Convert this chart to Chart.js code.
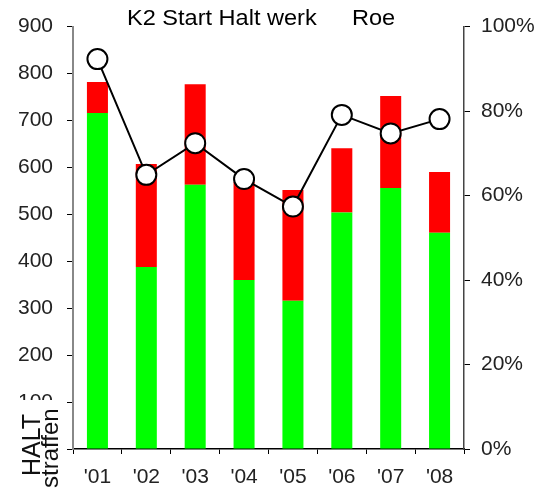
<!DOCTYPE html>
<html>
<head>
<meta charset="utf-8">
<script src="https://cdn.jsdelivr.net/npm/chart.js@4/dist/chart.umd.min.js"></script>
<style>
  html, body { margin: 0; padding: 0; background: #fff; }
  #wrap { width: 550px; height: 493px; }
</style>
</head>
<body>
<div id="wrap"><canvas id="chart" width="550" height="493"></canvas></div>
<script>
var years = ["'01", "'02", "'03", "'04", "'05", "'06", "'07", "'08"];
var halt = [716, 388, 563, 360, 316, 504, 556, 461];      // green part
var straffen = [66, 219, 214, 209, 236, 137, 196, 129];   // red part on top
var pct = [92.3, 64.9, 72.4, 63.9, 57.4, 79.1, 74.7, 78.1];
var leftTicks = [0, 100, 200, 300, 400, 500, 600, 700, 800, 900];
var rightTicks = [0, 20, 40, 60, 80, 100];

var fontName = "'Liberation Sans', Arial, sans-serif";

// title and the rotated "HALT straffen" note in the corner
var extraText = {
  id: 'extraText',
  afterDraw: function(chart) {
    var ctx = chart.ctx;
    ctx.save();
    ctx.fillStyle = '#000';
    ctx.font = '22px ' + fontName;
    ctx.textAlign = 'left';
    ctx.textBaseline = 'alphabetic';
    // slightly wider lettering for the title
    ctx.save();
    ctx.translate(127, 25);
    ctx.scale(1.07, 1);
    ctx.fillText('K2 Start Halt werk', 0, 0);
    ctx.restore();
    ctx.save();
    ctx.translate(352, 25);
    ctx.scale(1.07, 1);
    ctx.fillText('Roe', 0, 0);
    ctx.restore();

    ctx.fillStyle = '#fff';
    ctx.fillRect(10, 400, 53, 93);
    ctx.fillStyle = '#111';
    ctx.save();
    ctx.translate(40, 476);
    ctx.rotate(-Math.PI / 2);
    ctx.font = '25px ' + fontName;
    ctx.fillText('HALT', 0, 0);
    ctx.restore();
    ctx.save();
    ctx.translate(58, 488);
    ctx.rotate(-Math.PI / 2);
    ctx.font = '24px ' + fontName;
    ctx.fillText('straffen', 0, 0);
    ctx.restore();
    ctx.restore();
  }
};

new Chart(document.getElementById('chart'), {
  type: 'bar',
  data: {
    labels: years,
    datasets: [
      {
        type: 'line',
        label: 'percentage',
        data: pct,
        yAxisID: 'y2',
        borderColor: '#000',
        borderWidth: 2,
        pointRadius: 10,
        pointBackgroundColor: '#fff',
        pointBorderColor: '#000',
        pointBorderWidth: 2,
        tension: 0,
        order: 0
      },
      {
        label: 'HALT',
        data: halt,
        backgroundColor: '#00ff00',
        stack: 's',
        barPercentage: 0.43,
        categoryPercentage: 1,
        order: 1
      },
      {
        label: 'straffen',
        data: straffen,
        backgroundColor: '#ff0000',
        stack: 's',
        barPercentage: 0.43,
        categoryPercentage: 1,
        order: 1
      }
    ]
  },
  options: {
    responsive: false,
    animation: false,
    layout: { padding: { top: 25, left: 0, right: 0, bottom: 0 } },
    plugins: {
      legend: { display: false },
      title: { display: false },
      tooltip: { enabled: false }
    },
    scales: {
      x: {
        stacked: true,
        offset: true,
        grid: {
          offset: true,
          drawOnChartArea: false,
          tickLength: 5,
          color: '#000'
        },
        border: { color: '#000', width: 1.5 },
        ticks: { color: '#222', font: { size: 21, family: fontName }, padding: 11 },
        afterFit: function(s) { s.height = 44; }
      },
      y: {
        stacked: true,
        position: 'left',
        min: 0,
        max: 900,
        afterBuildTicks: function(s) { s.ticks = leftTicks.map(function(v) { return { value: v }; }); },
        grid: { drawOnChartArea: false, tickLength: 6, color: '#000' },
        border: { color: '#888', width: 2 },
        ticks: { color: '#222', font: { size: 21, family: fontName }, padding: 14 },
        afterFit: function(s) { s.width = 73; }
      },
      y2: {
        position: 'right',
        min: 0,
        max: 100,
        afterBuildTicks: function(s) { s.ticks = rightTicks.map(function(v) { return { value: v }; }); },
        grid: { drawOnChartArea: false, tickLength: 6, color: '#000' },
        border: { color: '#444', width: 1.5 },
        ticks: {
          color: '#222',
          font: { size: 21, family: fontName },
          padding: 11,
          callback: function(v) { return v + '%'; }
        },
        afterFit: function(s) { s.width = 86; }
      }
    }
  },
  plugins: [extraText]
});
</script>
</body>
</html>
